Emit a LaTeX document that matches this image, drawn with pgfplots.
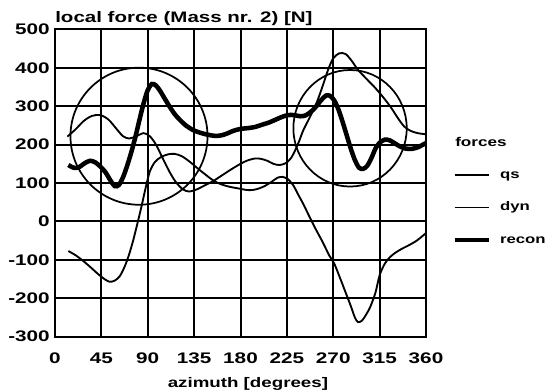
\documentclass[border=0pt]{standalone}
\usepackage{fontspec}
\setmainfont{Liberation Sans}[FakeStretch=1.35]
\usepackage{pgfplots}
\pgfplotsset{compat=1.18}
\pgfplotstableread{
x y
12 221
20 240
28 262
36 275
44 277
52 265
60 240
66 222
72 216
79 222
86 230
92 222
98 200
105 162
112 125
118 100
124 84
130 78
138 84
146 95
154 106
162 120
170 134
178 147
186 158
194 164
200 163
206 158
212 150
218 147
224 152
229 165
233 185
237 210
241 238
247 270
254 310
260 355
265 395
270 425
276 438
282 436
288 418
294 395
302 372
310 350
318 325
326 297
333 268
339 247
345 236
352 230
360 227
}\qs
\pgfplotstableread{
x y
13 -77
20 -88
27 -102
34 -118
41 -135
48 -150
53 -157
58 -154
63 -142
68 -115
72 -85
76 -48
80 -5
84 40
88 88
92 130
97 155
103 168
110 175
116 176
123 170
131 155
139 137
147 120
154 106
162 96
170 90
178 86
186 82
192 82
198 86
204 93
210 103
216 114
221 116
226 110
231 95
236 70
241 45
247 12
253 -20
260 -55
266 -88
271 -110
277 -150
282 -185
287 -220
291 -250
294 -262
298 -258
302 -242
306 -222
311 -185
315 -140
320 -110
325 -93
330 -82
336 -72
344 -61
351 -50
357 -37
360 -30
}\dyn
\pgfplotstableread{
x y
13 147
18 140
23 141
29 152
34 158
39 154
44 143
49 128
54 106
58 92
62 95
66 115
70 145
74 180
78 220
82 265
86 308
90 342
94 358
98 354
102 340
106 322
111 300
116 280
121 265
127 250
134 238
141 231
148 226
155 223
161 224
167 229
173 236
180 241
187 243
194 246
201 252
208 258
214 265
220 272
226 277
232 277
238 274
243 276
248 285
253 298
258 315
263 328
267 327
271 315
275 292
279 260
283 225
287 190
291 160
295 140
299 137
303 145
307 165
311 190
315 205
320 213
325 211
330 203
335 195
340 190
346 189
352 193
357 200
360 204
}\recon
\begin{document}
\begin{tikzpicture}
\begin{axis}[name=ax, scale only axis, width=278.25pt, height=230.4pt,
  xmin=0, xmax=360, ymin=-300, ymax=500,
  xtick={0,45,...,360}, ytick={-300,-200,...,500},
  xmajorgrids=true, ymajorgrids=true,
  grid style={black, line width=1.5pt},
  major grid style={black, line width=1.5pt},
  axis line style={black, line width=1.5pt},
  tick style={draw=none},
  /pgf/number format/assume math mode=true,
  ticklabel style={font=\bfseries\fontsize{11.5}{13}\selectfont},
  xticklabel style={anchor=base, yshift=-20.5pt},
  yticklabel style={anchor=east, inner xsep=0pt, xshift=-3.75pt},
  xlabel={azimuth [degrees]},
  xlabel style={font=\bfseries\fontsize{10.4}{12}\selectfont, at={(axis description cs:0.52,0)}, anchor=base, yshift=-38.2pt},
  legend style={at={(axis description cs:1.07,0.4206)}, anchor=west, draw=none, fill=none, inner sep=0pt,
    row sep=15.8pt, column sep=7pt, font=\bfseries\fontsize{9.3}{11}\selectfont,
    nodes={inner sep=0pt, text height=6.7pt, text depth=1.9pt}},
  legend cell align=left,
  legend image code/.code={\draw[#1] (0pt,0pt) -- (25.5pt,0pt);},
]
\addplot[black, line width=1.4pt, smooth, tension=0.5] table {\qs};
\addlegendentry{qs}
\addplot[black, line width=1.4pt, smooth, tension=0.5] table {\dyn};
\addlegendentry{dyn}
\addplot[black, line width=3.4pt, smooth, tension=0.5] table {\recon};
\addlegendentry{recon}
\draw[black, line width=1.3pt] (axis cs:81.5,222) circle [radius=51.4pt];
\draw[black, line width=1.3pt] (axis cs:286.3,242.7) ellipse [x radius=42.5pt, y radius=43.7pt];
\end{axis}
\node[anchor=base west, inner sep=0pt, font=\bfseries\fontsize{11.4}{13}\selectfont] at ([yshift=5.1pt]ax.north west) {local force (Mass nr. 2) [N]};
\node[anchor=base west, inner sep=0pt, font=\bfseries\fontsize{9.5}{11}\selectfont] at ([shift={(300pt,-87.9pt)}]ax.north west) {forces};
\pgfresetboundingbox
\path ([shift={(-41.25pt,-40.7pt)}]ax.south west) rectangle ([shift={(94.5pt,22.1pt)}]ax.north east);
\end{tikzpicture}
\end{document}
